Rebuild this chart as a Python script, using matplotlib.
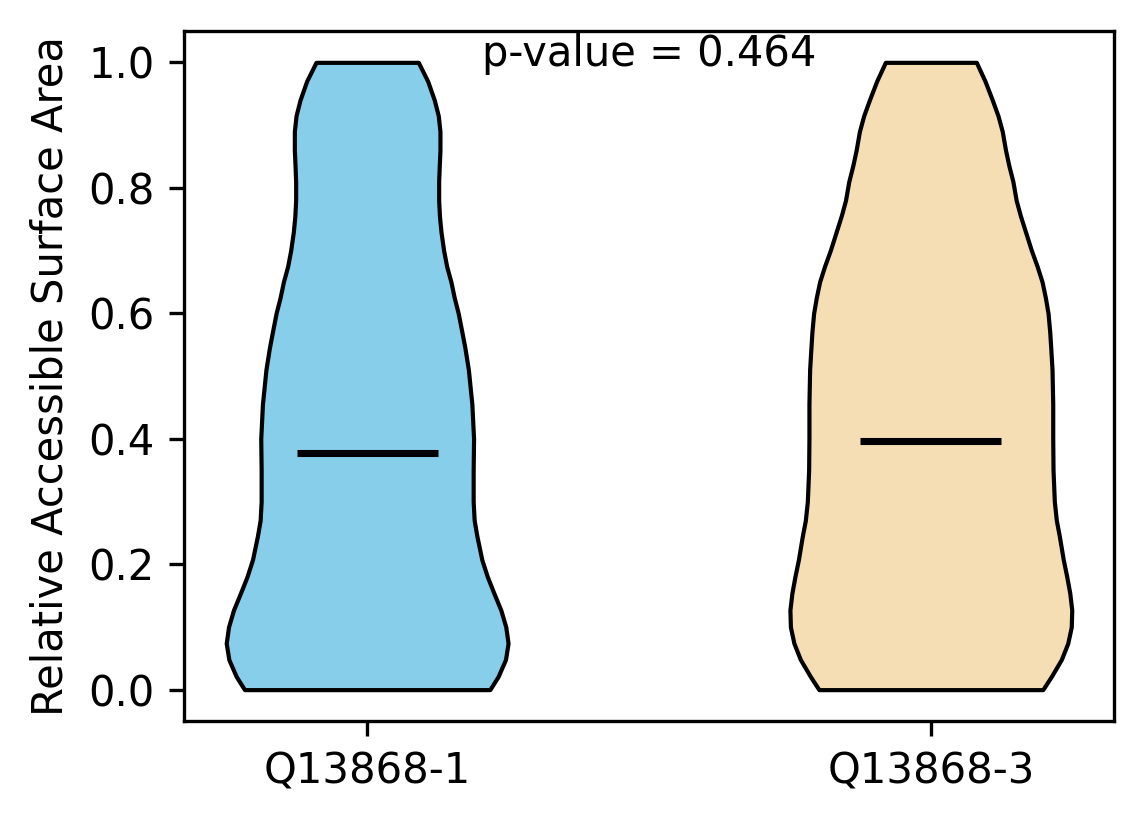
import numpy as np
import matplotlib.pyplot as plt

# isoform labels, p-value and means
labels = ['Q13868-1', 'Q13868-3']
p_value = 0.464
means = [0.377, 0.396]
colors = ['skyblue', 'wheat']

# density profile (relative half-width) of each violin
rsa_1 = [0.0, 0.021, 0.048, 0.074, 0.1, 0.127, 0.154, 0.18, 0.207,
         0.245, 0.27, 0.3, 0.35, 0.4, 0.455, 0.51, 0.545, 0.57, 0.6,
         0.625, 0.65, 0.675, 0.7, 0.73, 0.755, 0.78, 0.81, 0.835, 0.86,
         0.89, 0.915, 0.94, 0.97, 1.0]
density_1 = [123, 131.3, 138.7, 141.3, 139, 134, 127, 120.5, 115,
             110, 107.3, 106.3, 106.3, 106.7, 105, 101.5, 98, 95, 91.3,
             87.3, 84, 79.7, 76.7, 74, 72.5, 71.7, 71.7, 72.3, 73,
             73, 71.3, 67.3, 60.7, 51.3]
rsa_3 = [0.0, 0.021, 0.048, 0.074, 0.1, 0.127, 0.154, 0.18, 0.207,
         0.245, 0.27, 0.3, 0.35, 0.4, 0.455, 0.51, 0.545, 0.57, 0.6,
         0.625, 0.65, 0.675, 0.7, 0.73, 0.755, 0.78, 0.81, 0.835, 0.86,
         0.89, 0.915, 0.94, 0.97, 1.0]
density_3 = [112.4, 121, 131, 137.5, 141, 141.5, 139.5, 136.5, 133,
             129, 126, 124, 122.7, 122.4, 122.4, 121.7, 120.4, 119.4, 117.7,
             115, 111.7, 106.7, 101, 95, 90, 85.7, 82.4, 78.4, 75,
             71.7, 67.4, 61.7, 54.4, 45.7]

vpstats = []
for grid, dens, m in zip([rsa_1, rsa_3], [density_1, density_3], means):
    vpstats.append({
        'coords': np.array(grid),
        'vals': np.array(dens),
        'mean': m,
        'median': m,
        'min': min(grid),
        'max': max(grid),
    })

fig = plt.figure(figsize=(1144 / 300, 824 / 300), dpi=300)
ax = fig.add_subplot(111)
fig.subplots_adjust(left=0.1608, right=0.9738, top=0.9624, bottom=0.125)

parts = ax.violin(vpstats, positions=[1, 2], widths=0.5,
                  showmeans=True, showextrema=False)
for body, c in zip(parts['bodies'], colors):
    body.set_facecolor(c)
    body.set_edgecolor('black')
    body.set_linewidth(1)
    body.set_alpha(1)
parts['cmeans'].set_color('black')
parts['cmeans'].set_linewidth(1.7)

ax.set_xticks([1, 2])
ax.set_xticklabels(labels)
ax.set_yticks(np.arange(0, 1.01, 0.2))
ax.set_ylabel('Relative Accessible Surface Area')
ax.set_ylim(-0.05, 1.05)

ax.text(1.5, 0.98, f'p-value = {p_value:.3f}', ha='center', va='bottom')

fig.savefig('out.png', dpi=300)
